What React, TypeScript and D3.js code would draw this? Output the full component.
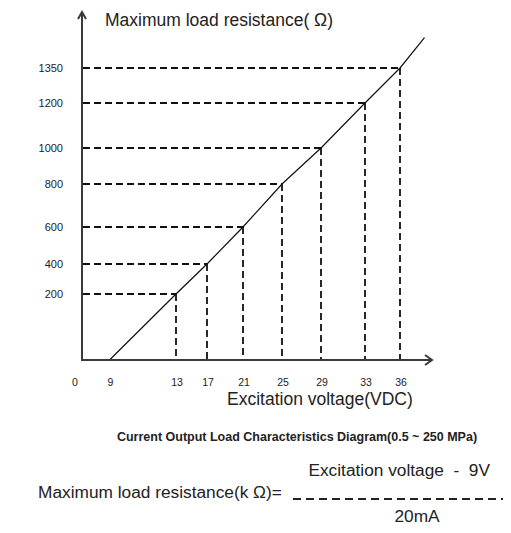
import * as d3 from "d3";
import React, { useEffect, useRef } from "react";

// schematic chart: ticks are not evenly spaced, so scales are piecewise
const voltTicks = [0, 9, 13, 17, 21, 25, 29, 33, 36];
const voltPx = [82, 109.5, 176, 207, 243, 282, 321, 365, 400];
const resTicks = [0, 200, 400, 600, 800, 1000, 1200, 1350];
const resPx = [360, 294, 264, 227, 184, 148, 103, 68];

// points of the load line (excitation voltage, max load resistance)
const lineVolts = [9, 13, 17, 21, 25, 29, 33, 36, 38.1];
const lineRes = [0, 200, 400, 600, 800, 1000, 1200, 1350, 1480];

// where the dashed guides are drawn
const guideVolts = [13, 17, 21, 25, 29, 33, 36];
const guideRes = [200, 400, 600, 800, 1000, 1200, 1350];

const W = 511;
const H = 533;

const App = () => {
  const svgRef = useRef<SVGSVGElement>(null);

  useEffect(() => {
    const svg = d3.select(svgRef.current);
    svg.selectAll("*").remove();

    const x = d3.scaleLinear().domain(voltTicks).range(voltPx);
    const y = d3.scaleLinear().domain(resTicks).range(resPx);
    const font = "Liberation Sans, Arial, sans-serif";
    const axisCol = "#3a3a3a";

    const x0 = x(0);
    const y0 = y(0);

    // dashed guides
    const g = svg.append("g").attr("stroke", "#111").attr("stroke-width", 1.8)
      .attr("stroke-dasharray", "7,4").attr("fill", "none");
    guideVolts.forEach((v, i) => {
      const r = guideRes[i];
      const px = Math.round(x(v));
      const py = Math.round(y(r));
      g.append("line").attr("x1", x0 + 1).attr("x2", px).attr("y1", py).attr("y2", py);
      g.append("line").attr("x1", px).attr("x2", px).attr("y1", py).attr("y2", y0);
    });

    // load line
    const line = d3.line<number>()
      .x((d) => x(d))
      .y((_, i) => y(lineRes[i]));
    svg.append("path")
      .attr("d", line(lineVolts))
      .attr("fill", "none")
      .attr("stroke", "#111")
      .attr("stroke-width", 1.2);

    // axes with open arrow heads
    const ax = svg.append("g").attr("stroke", axisCol).attr("stroke-width", 2).attr("fill", "none");
    ax.append("line").attr("x1", x0).attr("x2", x0).attr("y1", y0 + 1).attr("y2", 12);
    ax.append("path").attr("d", `M${x0 - 4},19 L${x0},12 L${x0 + 4},19`);
    ax.append("line").attr("x1", x0 - 1).attr("x2", 432).attr("y1", y0).attr("y2", y0);
    ax.append("path").attr("d", `M425,${y0 - 5} L432,${y0} L425,${y0 + 5}`);

    // y tick labels
    svg.append("g").selectAll("text")
      .data(resTicks.slice(1))
      .join("text")
      .attr("x", 63)
      .attr("y", (d) => y(d))
      .attr("dy", "0.35em")
      .attr("text-anchor", "end")
      .attr("font-family", font)
      .attr("font-size", 11)
      .attr("fill", "#222")
      .text((d) => d);

    // x tick labels
    svg.append("g").selectAll("text")
      .data(voltTicks)
      .join("text")
      .attr("x", (d) => (d === 0 ? 75 : x(d) + 1))
      .attr("y", 386)
      .attr("text-anchor", "middle")
      .attr("font-family", font)
      .attr("font-size", 10.5)
      .attr("fill", "#222")
      .text((d) => d);

    const txt = (s: string, tx: number, ty: number, size: number, anchor = "start", weight = "normal") =>
      svg.append("text")
        .attr("x", tx).attr("y", ty)
        .attr("text-anchor", anchor)
        .attr("font-family", font)
        .attr("font-size", size)
        .attr("font-weight", weight)
        .attr("fill", "#222")
        .style("white-space", "pre")
        .text(s);

    txt("Maximum load resistance( Ω)", 105, 26, 17.5);
    txt("Excitation voltage(VDC)", 227, 405, 17.5);
    txt("Current Output Load Characteristics Diagram(0.5 ~ 250 MPa)", 297, 441, 12.5, "middle", "bold");

    // formula
    txt("Maximum load resistance(k Ω)=", 38, 498, 17.3);
    txt("Excitation voltage  -  9V", 490, 476, 17.3, "end");
    txt("20mA", 417, 522, 17.3, "middle");
    svg.append("line")
      .attr("x1", 293).attr("x2", W).attr("y1", 499).attr("y2", 499)
      .attr("stroke", "#222").attr("stroke-width", 2).attr("stroke-dasharray", "8,5");
  }, []);

  return <svg ref={svgRef} width={W} height={H} style={{ display: "block", margin: -8 }} />;
};

export default App;
